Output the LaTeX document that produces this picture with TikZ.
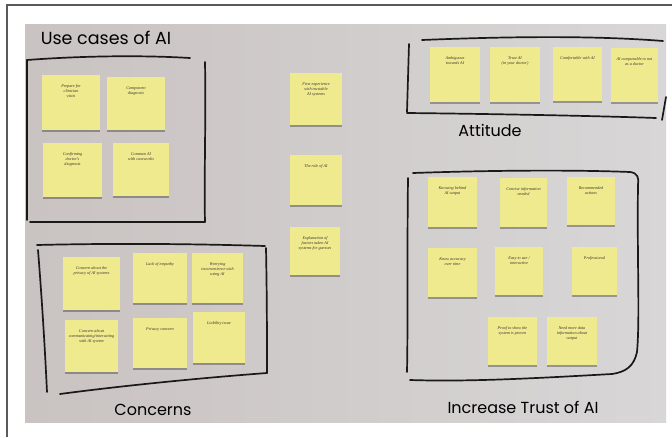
\documentclass[tikz,border=0pt]{standalone}
\usepackage{fontspec}
\setmainfont{Liberation Serif}
\newfontfamily\markerfont{Poppins}
\usetikzlibrary{shadows}

\definecolor{boardlight}{RGB}{216,214,215}
\definecolor{boarddark}{RGB}{201,195,193}
\definecolor{paper}{RGB}{240,234,143}
\definecolor{ink}{RGB}{55,52,45}
\definecolor{framegray}{RGB}{90,90,90}

\tikzset{
  note/.style={fill=paper, draw=none, inner sep=0pt,
    drop shadow={shadow xshift=0.4pt, shadow yshift=-1.6pt, fill=black, opacity=0.3}},
  notetext/.style={font=\itshape\fontsize{4.2}{5}\selectfont, text=ink, align=center, inner sep=0pt},
  marker/.style={draw=black!90, line width=1.7pt, line cap=round, line join=round},
  heading/.style={font=\markerfont\fontsize{16}{18}\selectfont, text=black, inner sep=0pt}
}

% one sticky note: name, centre x, centre y, width, height, text
\newcommand{\sticky}[6]{%
  \node[note, minimum width=#4pt, minimum height=#5pt] (#1) at (#2,#3) {};
  \node[notetext, anchor=north] (#1t) at ([yshift=-10pt]#1.north) {#6};
}

\begin{document}
\begin{tikzpicture}[x=1pt,y=-1pt]
  \useasboundingbox (0,0) rectangle (672,437);
  \fill[white] (0,0) rectangle (672,437);
  % outer frame lines
  \draw[framegray, line width=1.3pt] (7,437) -- (7,5) -- (672,5);
  % whiteboard photo
  \shade[left color=boarddark, right color=boardlight] (25,24) rectangle (666,422);

  % ---- Use cases of AI ----
  \node[heading, font=\markerfont\fontsize{17.5}{19}\selectfont] (huse) at (106,38) {Use cases of AI};
  \draw[marker] (27,60) .. controls (80,56) and (140,55) .. (190,58);
  \draw[marker] (205,62) .. controls (206,120) and (204,180) .. (205,222) -- (30,222);
  \draw[marker] (27,60) -- (27,220);
  \sticky{u1}{71}{102.5}{58}{55}{Prepare for\\clinician\\visits}
  \sticky{u2}{136}{103.5}{58}{53}{Component\\diagnosis}
  \sticky{u3}{72.5}{170}{59}{54}{Confirming\\doctor's\\diagnosis}
  \sticky{u4}{141}{169.5}{56}{53}{Common AI\\with caseworks}

  % ---- middle column ----
  \sticky{m1}{316}{99}{52}{52}{First experience\\with trustable\\AI systems}
  \sticky{m2}{316}{180}{52}{50}{The role of AI}
  \sticky{m3}{315}{251}{50}{48}{Explanation of\\factors taken AI\\systems for guesses}

  % ---- Attitude ----
  \draw[marker] (409,44) -- (407,112);
  \draw[marker] (422,40) .. controls (520,36) and (600,36) .. (663,41);
  \draw[marker] (407,113) .. controls (500,114) and (600,116) .. (656,118);
  \draw[marker] (666,97) -- (662,120);
  \node[heading] (hatt) at (490,130) {Attitude};
  \sticky{a1}{455}{74.5}{50}{55}{Ambiguous\\towards AI}
  \sticky{a2}{515}{74.5}{50}{55}{Trust AI\\(in your doctor)}
  \sticky{a3}{577.5}{74}{49}{54}{Comfortable with AI}
  \sticky{a4}{634.5}{75}{47}{54}{AI comparable to not\\as a doctor}

  % ---- Concerns ----
  \draw[marker] (37,245) .. controls (120,243) and (200,244) .. (265,246);
  \draw[marker] (266,248) .. controls (267,300) and (267,340) .. (267,373);
  \draw[marker] (267,373) .. controls (200,378) and (120,386) .. (60,394);
  \draw[marker] (38,250) .. controls (42,300) and (45,350) .. (47,392);
  \node[heading] (hcon) at (153,410) {Concerns};
  \sticky{c1}{91.5}{283.5}{57}{53}{Concern about the\\privacy of AI systems}
  \sticky{c2}{160}{278}{54}{50}{Lack of empathy}
  \sticky{c3}{217.5}{278}{51}{50}{Worrying\\inconvenience with\\using AI}
  \sticky{c4}{91.5}{346}{53}{52}{Concern about\\communicating/interacting\\with AI system}
  \sticky{c5}{160}{343}{54}{50}{Privacy concern}
  \sticky{c6}{219}{337.5}{52}{51}{Liability issue}

  % ---- Increase Trust of AI ----
  \draw[marker] (413,173) .. controls (500,170) and (580,170) .. (630,172)
        .. controls (638,173) and (639,178) .. (638,185)
        .. controls (637,260) and (640,320) .. (637,352)
        .. controls (634,366) and (626,372) .. (612,374);
  \draw[marker] (612,374) .. controls (540,378) and (470,382) .. (410,380);
  \draw[marker] (408,178) .. controls (407,260) and (408,320) .. (407,372);
  \node[heading] (htru) at (523,407) {Increase Trust of AI};
  \sticky{t1}{452.5}{202}{49}{50}{Knowing behind\\AI output}
  \sticky{t2}{523.5}{202.5}{47}{49}{Concise information\\needed}
  \sticky{t3}{591}{201}{48}{48}{Recommended\\actions}
  \sticky{t4}{452.5}{272.5}{49}{49}{Know accuracy\\over time}
  \sticky{t5}{519}{271}{48}{48}{Easy to use /\\interactive}
  \sticky{t6}{594.5}{271}{45}{48}{Professional}
  \sticky{t7}{512.5}{341}{49}{48}{Proof to show the\\system is proven}
  \sticky{t8}{572}{341}{50}{48}{Need more data\\information about\\output}
\end{tikzpicture}
\end{document}
